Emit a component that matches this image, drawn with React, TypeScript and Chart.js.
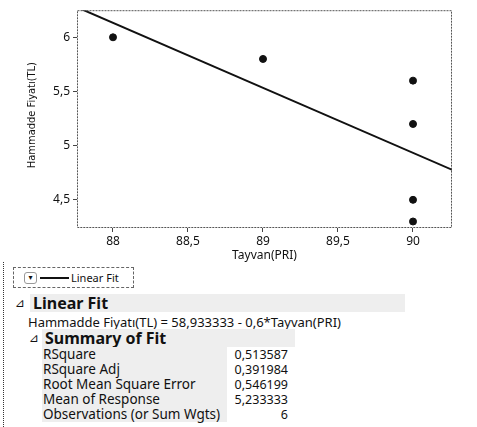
import React, { useEffect, useRef } from "react";
import { Chart, registerables } from "chart.js";

Chart.register(...registerables);

// ---- data ----
const xValues = [88, 89, 90, 90, 90, 90];
const yValues = [6.0, 5.8, 5.6, 5.2, 4.5, 4.3];
const fitLineX = [87.7, 90.3];
const fitLineY = [6.313333, 4.753333];
const xTicks = [88, 88.5, 89, 89.5, 90];
const yTicks = [4.5, 5, 5.5, 6];
const xTitle = "Tayvan(PRI)";
const yTitle = "Hammadde Fiyatı(TL)";
const equationText = "Hammadde Fiyatı(TL) = 58,933333 - 0,6*Tayvan(PRI)";
const summaryLabels = [
  "RSquare",
  "RSquare Adj",
  "Root Mean Square Error",
  "Mean of Response",
  "Observations (or Sum Wgts)",
];
const summaryValues = ["0,513587", "0,391984", "0,546199", "5,233333", "6"];

const fmt = (v: number) => String(v).replace(".", ",");

const framePlugin = {
  id: "frameAndTitles",
  afterDraw(chart: any) {
    const { ctx, chartArea } = chart;
    const { left, right, top, bottom } = chartArea;
    ctx.save();
    ctx.strokeStyle = "#555";
    ctx.lineWidth = 1;
    ctx.setLineDash([2, 1]);
    ctx.strokeRect(left + 0.5, top + 0.5, right - left - 1, bottom - top - 1);
    ctx.setLineDash([]);
    ctx.fillStyle = "#111";
    ctx.font = "12px 'Noto Sans', sans-serif";
    ctx.textAlign = "center";
    ctx.textBaseline = "middle";
    ctx.fillText(xTitle, (left + right) / 2, 256);
    ctx.translate(32, (top + bottom) / 2 - 4);
    ctx.rotate(-Math.PI / 2);
    ctx.font = "11px 'Liberation Sans Narrow', 'DejaVu Sans Condensed', sans-serif";
    ctx.fillText(yTitle, 0, 0);
    ctx.restore();
  },
};

function ChartCanvas() {
  const ref = useRef<HTMLCanvasElement | null>(null);
  useEffect(() => {
    if (!ref.current) return;
    const chart = new Chart(ref.current, {
      type: "scatter",
      data: {
        datasets: [
          {
            type: "line",
            data: fitLineX.map((x, i) => ({ x, y: fitLineY[i] })),
            borderColor: "#111",
            borderWidth: 2,
            pointRadius: 0,
            fill: false,
          } as any,
          {
            data: xValues.map((x, i) => ({ x, y: yValues[i] })),
            backgroundColor: "#111",
            borderColor: "#111",
            pointRadius: 3.5,
            pointStyle: "circle",
          },
        ],
      },
      options: {
        responsive: false,
        animation: false,
        devicePixelRatio: 1,
        layout: { padding: { left: 0, top: 5, right: 25, bottom: 0 } },
        plugins: { legend: { display: false }, tooltip: { enabled: false } },
        scales: {
          x: {
            type: "linear",
            min: 87.76,
            max: 90.26,
            afterBuildTicks: (s: any) => {
              s.ticks = xTicks.map((v) => ({ value: v }));
            },
            afterFit: (s: any) => {
              s.height = 34;
            },
            grid: { drawOnChartArea: false, drawTicks: true, tickLength: 4, color: "#444" },
            border: { display: false },
            ticks: {
              color: "#111",
              padding: 2,
              maxRotation: 0,
              font: { family: "'Noto Sans', sans-serif", size: 12 },
              callback: (v: any) => fmt(Number(v)),
            },
          },
          y: {
            type: "linear",
            min: 4.24,
            max: 6.25,
            afterBuildTicks: (s: any) => {
              s.ticks = yTicks.map((v) => ({ value: v }));
            },
            afterFit: (s: any) => {
              s.width = 77;
            },
            grid: { drawOnChartArea: false, drawTicks: true, tickLength: 4, color: "#444" },
            border: { display: false },
            ticks: {
              color: "#111",
              padding: 3,
              font: { family: "'Noto Sans', sans-serif", size: 12 },
              callback: (v: any) => fmt(Number(v)),
            },
          },
        },
      },
      plugins: [framePlugin],
    } as any);
    return () => chart.destroy();
  }, []);
  return (
    <canvas
      ref={ref}
      width={477}
      height={262}
      style={{ position: "absolute", left: 0, top: 0, width: 477, height: 262 }}
    />
  );
}

const sans = "'Noto Sans', sans-serif";
const tri = "'DejaVu Sans', sans-serif";

export default function App() {
  const rowTop = 347;
  const rowH = 15;
  return (
    <div
      style={{
        position: "absolute",
        left: 0,
        top: 0,
        width: 477,
        height: 427,
        background: "#fff",
        overflow: "hidden",
        color: "#111",
        fontFamily: sans,
      }}
    >
      <ChartCanvas />
      {/* report left border */}
      <div style={{ position: "absolute", left: 3, top: 262, width: 0, height: 165, borderLeft: "1px dotted #333" }} />
      {/* legend box */}
      <div
        style={{
          position: "absolute",
          left: 13,
          top: 267,
          width: 119,
          height: 19,
          border: "1px dashed #666",
        }}
      >
        <div
          style={{
            position: "absolute",
            left: 10,
            top: 4,
            width: 11,
            height: 10,
            border: "1px solid #999",
            borderRadius: 3,
            fontSize: 8,
            lineHeight: "10px",
            textAlign: "center",
            fontFamily: tri,
          }}
        >
          ▾
        </div>
        <div style={{ position: "absolute", left: 26, top: 9, width: 29, height: 2, background: "#111" }} />
        <div style={{ position: "absolute", left: 57, top: 2, fontSize: 11, lineHeight: "15px", whiteSpace: "nowrap" }}>
          Linear Fit
        </div>
      </div>
      {/* Linear Fit header */}
      <div style={{ position: "absolute", left: 30, top: 294, width: 375, height: 18, background: "#eeeeee" }} />
      <div style={{ position: "absolute", left: 15, top: 293, fontFamily: tri, fontSize: 12, lineHeight: "20px" }}>⊿</div>
      <div
        style={{
          position: "absolute",
          left: 33,
          top: 293,
          fontSize: 16,
          fontWeight: 700,
          lineHeight: "20px",
          whiteSpace: "nowrap",
        }}
      >
        Linear Fit
      </div>
      <div
        style={{ position: "absolute", left: 28, top: 314, fontSize: 13, lineHeight: "16px", whiteSpace: "nowrap" }}
      >
        {equationText}
      </div>
      {/* Summary header */}
      <div style={{ position: "absolute", left: 42, top: 329, width: 253, height: 18, background: "#eeeeee" }} />
      <div style={{ position: "absolute", left: 29, top: 328, fontFamily: tri, fontSize: 12, lineHeight: "20px" }}>⊿</div>
      <div
        style={{
          position: "absolute",
          left: 45,
          top: 328,
          fontSize: 16,
          fontWeight: 700,
          lineHeight: "20px",
          whiteSpace: "nowrap",
        }}
      >
        Summary of Fit
      </div>
      {/* label column bg */}
      <div
        style={{
          position: "absolute",
          left: 42,
          top: rowTop,
          width: 185,
          height: rowH * summaryLabels.length,
          background: "#eeeeee",
        }}
      />
      {summaryLabels.map((lab, i) => (
        <div
          key={lab}
          style={{
            position: "absolute",
            left: 43,
            top: rowTop + i * rowH,
            fontSize: 13.5,
            lineHeight: `${rowH}px`,
            whiteSpace: "nowrap",
          }}
        >
          {lab}
        </div>
      ))}
      {summaryValues.map((val, i) => (
        <div
          key={i}
          style={{
            position: "absolute",
            left: 200,
            width: 88,
            textAlign: "right",
            top: rowTop + i * rowH,
            fontSize: 12.5,
            lineHeight: `${rowH}px`,
            whiteSpace: "nowrap",
          }}
        >
          {val}
        </div>
      ))}
    </div>
  );
}
